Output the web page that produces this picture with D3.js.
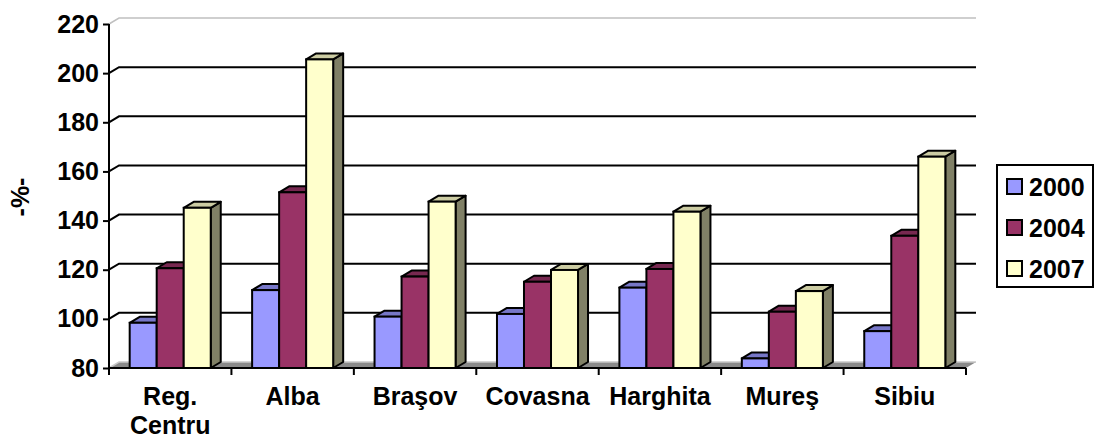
<!DOCTYPE html>
<html>
<head>
<meta charset="utf-8">
<script src="https://cdn.jsdelivr.net/npm/d3@7"></script>
<style>
  body { margin: 0; background: #fff; }
  text { font-family: "Liberation Sans", Arial, sans-serif; font-weight: bold; }
</style>
</head>
<body>
<div id="chart"></div>
<script>
const categories = ["Reg.\nCentru", "Alba", "Braşov", "Covasna", "Harghita", "Mureş", "Sibiu"];
const years = ["2000", "2004", "2007"];
const values2000 = [98.4, 111.7, 100.9, 102, 112.7, 83.9, 95];
const values2004 = [120.6, 151.5, 117.2, 115.1, 120.3, 102.9, 133.8];
const values2007 = [145.2, 205.6, 147.7, 119.9, 143.6, 111.3, 166];
const yTicks = [80, 100, 120, 140, 160, 180, 200, 220];

const series = [values2000, values2004, values2007];
const faceColors = ["#9999FF", "#993366", "#FFFFCC"];
const topColors = ["#7777C8", "#772850", "#CCCCA3"];
const sideColors = ["#6666AA", "#662244", "#808066"];

const width = 1095;
const height = 439;
const dx = 10, dy = -6;   // depth offset of the 3d box

const x0 = d3.scaleBand()
    .domain(categories)
    .range([109, 966])
    .paddingInner(0.338)
    .paddingOuter(0.169);

const x1 = d3.scaleBand()
    .domain(years)
    .range([0, x0.bandwidth()]);

const y = d3.scaleLinear()
    .domain([80, 220])
    .range([368, 24]);

const svg = d3.select('#chart').append('svg')
    .attr('width', width)
    .attr('height', height);

svg.append('rect').attr('width', width).attr('height', height).attr('fill', '#fff');

const left = x0.range()[0], right = x0.range()[1];

// back wall top border
svg.append('path')
    .attr('d', `M${left},${y(220)}L${left + dx},${y(220) + dy}L${right + dx},${y(220) + dy}`)
    .attr('fill', 'none')
    .attr('stroke', '#c0c0c0')
    .attr('stroke-width', 1.5);

// gridlines (left wall diagonal + back wall)
svg.append('g').selectAll('path')
    .data(yTicks.filter(d => d > 80 && d < 220))
    .join('path')
    .attr('d', d => `M${left},${y(d)}L${left + dx},${y(d) + dy}L${right + dx},${y(d) + dy}`)
    .attr('fill', 'none')
    .attr('stroke', '#000')
    .attr('stroke-width', 2);

// floor
svg.append('path')
    .attr('d', `M${left},${y(80)}L${left + dx},${y(80) + dy}L${right + dx},${y(80) + dy}L${right},${y(80)}Z`)
    .attr('fill', '#8a8a8a');
svg.append('path')
    .attr('d', `M${left},${y(80)}L${left + dx},${y(80) + dy}L${right + dx},${y(80) + dy}`)
    .attr('fill', 'none')
    .attr('stroke', '#c8c8c8')
    .attr('stroke-width', 1.5);

// bars
const groups = svg.append('g').selectAll('g')
    .data(categories)
    .join('g')
    .attr('transform', d => `translate(${x0(d)},0)`);

groups.each(function(cat, ci) {
    const g = d3.select(this);
    years.forEach((yr, si) => {
        const v = series[si][ci];
        const bx = x1(yr), bw = x1.bandwidth();
        const top = y(v), bottom = y(80);
        const bar = g.append('g');
        bar.append('path')
            .attr('d', `M${bx + bw},${bottom}L${bx + bw + dx},${bottom + dy}L${bx + bw + dx},${top + dy}L${bx + bw},${top}Z`)
            .attr('fill', sideColors[si]).attr('stroke', '#000').attr('stroke-width', 2).attr('stroke-linejoin', 'round');
        bar.append('path')
            .attr('d', `M${bx},${top}L${bx + dx},${top + dy}L${bx + bw + dx},${top + dy}L${bx + bw},${top}Z`)
            .attr('fill', topColors[si]).attr('stroke', '#000').attr('stroke-width', 2).attr('stroke-linejoin', 'round');
        bar.append('rect')
            .attr('x', bx).attr('y', top)
            .attr('width', bw).attr('height', bottom - top)
            .attr('fill', faceColors[si]).attr('stroke', '#000').attr('stroke-width', 2);
    });
});

// y axis
const yAxis = svg.append('g').attr('transform', `translate(${left},0)`)
    .call(d3.axisLeft(y).tickValues(yTicks).tickSize(6).tickPadding(4));
yAxis.select('.domain').attr('stroke', '#000').attr('stroke-width', 2).attr('d', `M0,${y(220)}V${y(80)}`);
yAxis.selectAll('.tick line').attr('stroke', '#000').attr('stroke-width', 2);
yAxis.selectAll('.tick text')
    .attr('fill', '#000')
    .style('font-size', '25px')
    .style('font-family', '"Liberation Sans", Arial, sans-serif')
    .style('font-weight', 'bold');

// x axis
const xAxis = svg.append('g').attr('transform', `translate(0,${y(80)})`);
xAxis.append('line')
    .attr('x1', left).attr('x2', right)
    .attr('stroke', '#000').attr('stroke-width', 2);
const bounds = categories.map(c => x0(c) - x0.step() * x0.paddingInner() / 2).concat([right]);
xAxis.selectAll('.xt')
    .data(bounds)
    .join('line')
    .attr('x1', d => d).attr('x2', d => d)
    .attr('y1', 0).attr('y2', 7)
    .attr('stroke', '#000').attr('stroke-width', 2);

const labels = svg.append('g').selectAll('text')
    .data(categories)
    .join('text')
    .attr('text-anchor', 'middle')
    .attr('x', d => x0(d) + x0.bandwidth() / 2)
    .attr('y', 405)
    .style('font-size', '25px');
labels.selectAll('tspan')
    .data(d => d.split('\n'))
    .join('tspan')
    .attr('x', function() { return d3.select(this.parentNode).attr('x'); })
    .attr('dy', (d, i) => i === 0 ? 0 : 29)
    .text(d => d);

// y axis title
svg.append('text')
    .attr('transform', 'translate(29,197) rotate(-90)')
    .attr('text-anchor', 'middle')
    .style('font-size', '25px')
    .text('-%-');

// legend
const legend = svg.append('g');
legend.append('rect')
    .attr('x', 997).attr('y', 165)
    .attr('width', 96).attr('height', 122)
    .attr('fill', '#fff').attr('stroke', '#000').attr('stroke-width', 2);
const items = legend.selectAll('g')
    .data(years)
    .join('g')
    .attr('transform', (d, i) => `translate(1007,${187 + i * 41})`);
items.append('rect')
    .attr('x', 0).attr('y', -8)
    .attr('width', 15).attr('height', 15)
    .attr('fill', (d, i) => faceColors[i])
    .attr('stroke', '#000').attr('stroke-width', 2);
items.append('text')
    .attr('x', 22).attr('y', 9)
    .style('font-size', '25px')
    .text(d => d);
</script>
</body>
</html>
